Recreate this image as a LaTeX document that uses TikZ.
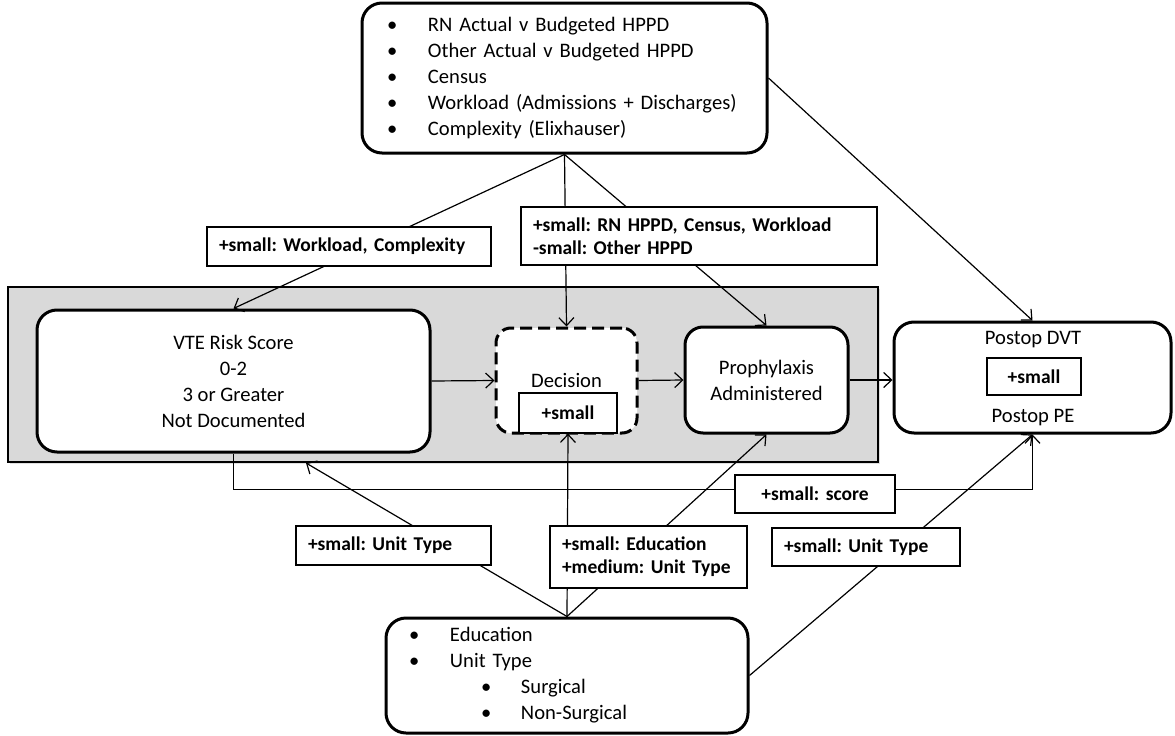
\documentclass[tikz,border=0pt]{standalone}
\usepackage{fontspec}
\setmainfont{Carlito}
\usetikzlibrary{arrows.meta,shadows}
\newcommand{\itm}{\makebox[41pt][l]{\textbullet}}
\newcommand{\subitm}{\hspace*{72pt}\makebox[40pt][l]{\textbullet}}
\frenchspacing

\begin{document}
\begin{tikzpicture}[x=1pt, y=-1pt,
  every node/.style={font=\fontsize{20.6}{26}\selectfont},
  >={Straight Barb[length=8pt,width=15pt]},
  conn/.style={->, line width=1.2pt},
  box/.style={draw, fill=white, line width=3pt, rounded corners=20pt, align=center, inner sep=0pt},
  dec/.style={box, dash pattern=on 12pt off 6pt, rounded corners=15pt},
  small/.style={draw, fill=white, line width=1.2pt, inner sep=0pt, font=\bfseries\fontsize{19.5}{23}\selectfont},
  lbl/.style={small, inner xsep=12pt, align=left},
  frame/.style={draw, fill=black!15, line width=1.2pt, inner sep=0pt, drop shadow={opacity=0.25, shadow xshift=2pt, shadow yshift=-2pt}}]
\useasboundingbox (0,0) rectangle (1175,736);
\node[frame, minimum width=870pt, minimum height=175pt] (frame) at (443,374.5) {};
\node[box, align=left, text width=355pt, inner xsep=25pt, minimum height=150pt] (top) at (564.5,78) {\itm RN Actual v Budgeted HPPD\\ \itm Other Actual v Budgeted HPPD\\ \itm Census\\ \itm Workload (Admissions + Discharges)\\ \itm Complexity (Elixhauser)};
\node[box, minimum width=393pt, minimum height=142pt] (vte) at (233.5,381) {VTE Risk Score\\0-2\\3 or Greater\\Not Documented};
\node[dec, minimum width=141pt, minimum height=105pt] (dec) at (566.5,380.5) {Decision};
\node[small, minimum width=98pt, minimum height=40pt] (decsmall) at (568,413) {+small};
\node[box, rounded corners=18pt, minimum width=163pt, minimum height=106pt] (proph) at (766.5,380) {Prophylaxis\\Administered};
\node[box, minimum width=277pt, minimum height=111pt] (postop) at (1032.5,377.5) {};
\node (dvt) at (1033,340) {Postop DVT};
\node[small, minimum width=94pt, minimum height=37pt] (postsmall) at (1034,376.5) {+small};
\node (pe) at (1033,418) {Postop PE};
\node[box, align=left, text width=316pt, inner xsep=23pt, minimum height=115pt] (bottom) at (567,675.5) {\itm Education\\ \itm Unit Type\\ \subitm Surgical\\ \subitm Non-Surgical};
\coordinate (vtein) at (306,463);
\draw[conn] (top.south) -- (vte.north);
\draw[conn] (top.south) -- (dec.north);
\draw[conn] (top.south) -- (proph.north);
\draw[conn] (top.east) -- (postop.north);
\draw[conn] (vte.east) -- (dec.west);
\draw[conn] (dec.east) -- (proph.west);
\draw[conn] (proph.east) -- (proph.east -| postop.west);
\draw[conn] (vte.south) -- ++(0,36) -| (postop.south);
\draw[conn] (bottom.north) -- (vtein);
\draw[conn] (bottom.north) -- (decsmall.south);
\draw[conn] (bottom.north) -- (proph.south);
\draw[conn] (bottom.east) -- (postop.south);
\node[lbl, text width=260pt, minimum height=39pt] (lblwork) at (349,246.5) {+small: Workload, Complexity};
\node[lbl, text width=332pt, minimum height=58pt] (lblstaff) at (699,236) {+small: RN HPPD, Census, Workload\\-small: Other HPPD};
\node[lbl, align=center, text width=136pt, minimum height=38pt] (lblscore) at (815,494) {+small: score};
\node[lbl, text width=171pt, minimum height=39pt] (lblunitl) at (393.5,545.5) {+small: Unit Type};
\node[lbl, text width=173pt, minimum height=62pt] (lbledu) at (648.5,557) {+small: Education\\+medium: Unit Type};
\node[lbl, text width=164pt, minimum height=38pt] (lblunitr) at (866,547) {+small: Unit Type};
\end{tikzpicture}
\end{document}
